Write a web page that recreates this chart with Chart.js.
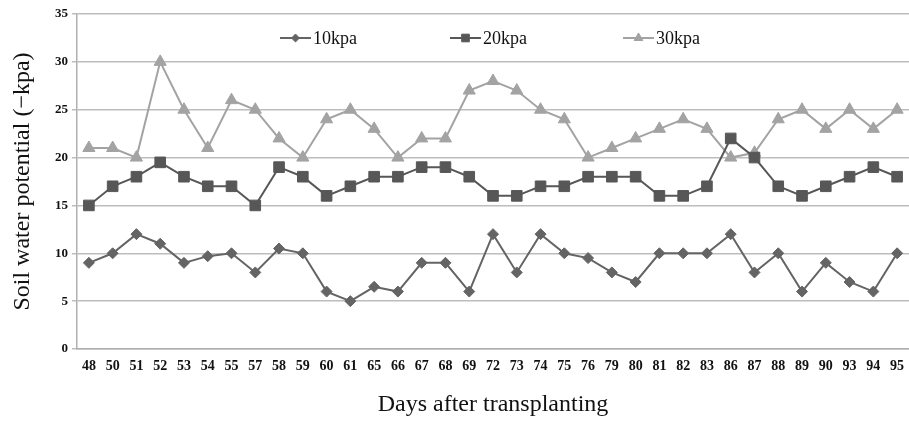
<!DOCTYPE html>
<html>
<head>
<meta charset="utf-8">
<script src="https://cdn.jsdelivr.net/npm/chart.js@4.4.1/dist/chart.umd.min.js"></script>
<style>
html,body{margin:0;padding:0;background:#fff;}
#wrap{width:909px;height:421px;position:relative;}
</style>
</head>
<body>
<div id="wrap"><canvas id="c" width="909" height="421"></canvas></div>
<script>
const days = ['48','50','51','52','53','54','55','57','58','59','60','61','65','66','67','68','69','72','73','74','75','76','79','80','81','82','83','86','87','88','89','90','93','94','95'];
const kpa10 = [9,10,12,11,9,9.7,10,8,10.5,10,6,5,6.5,6,9,9,6,12,8,12,10,9.5,8,7,10,10,10,12,8,10,6,9,7,6,10];
const kpa20 = [15,17,18,19.5,18,17,17,15,19,18,16,17,18,18,19,19,18,16,16,17,17,18,18,18,16,16,17,22,20,17,16,17,18,19,18];
const kpa30 = [21,21,20,30,25,21,26,25,22,20,24,25,23,20,22,22,27,28,27,25,24,20,21,22,23,24,23,20,20.5,24,25,23,25,23,25];
const yTicks = [0,5,10,15,20,25,30,35];
const seriesLabels = ['10kpa','20kpa','30kpa'];

const serif = '"Liberation Serif", "DejaVu Serif", serif';

const legendPlugin = {
  id: 'inLegend',
  afterDraw(chart) {
    const ctx = chart.ctx;
    const pos = [280, 450, 623];
    const y = 38;
    chart.data.datasets.forEach((ds, i) => {
      const x0 = pos[i];
      ctx.save();
      ctx.strokeStyle = ds.borderColor;
      ctx.fillStyle = ds.backgroundColor;
      ctx.lineWidth = 2;
      ctx.beginPath();
      ctx.moveTo(x0, y); ctx.lineTo(x0 + 31, y);
      ctx.stroke();
      ctx.lineWidth = 1;
      Chart.helpers.drawPoint(ctx, {pointStyle: ds.pointStyle, radius: ds.pointRadius * 0.72, rotation: 0, borderWidth: 1}, x0 + 15.5, y);
      ctx.fillStyle = '#111';
      ctx.font = '18px ' + serif;
      ctx.textBaseline = 'middle';
      ctx.textAlign = 'left';
      ctx.fillText(ds.label, x0 + 33, y + 1);
      ctx.restore();
    });
  }
};

new Chart(document.getElementById('c'), {
  type: 'line',
  data: {
    labels: days,
    datasets: [
      {label: seriesLabels[0], data: kpa10, borderColor: '#646464', backgroundColor: '#646464', borderWidth: 2, pointStyle: 'rectRot', pointRadius: 5.5, pointBorderWidth: 1},
      {label: seriesLabels[1], data: kpa20, borderColor: '#575757', backgroundColor: '#575757', borderWidth: 2, pointStyle: 'rect', pointRadius: 7.5, pointBorderWidth: 1},
      {label: seriesLabels[2], data: kpa30, borderColor: '#a3a3a3', backgroundColor: '#a3a3a3', borderWidth: 2, pointStyle: 'triangle', pointRadius: 7, pointBorderWidth: 1}
    ]
  },
  options: {
    responsive: false,
    animation: false,
    devicePixelRatio: 1,
    layout: {autoPadding: false, padding: {top: 14, right: -2, left: 0, bottom: 0}},
    plugins: {legend: {display: false}, tooltip: {enabled: false}},
    scales: {
      x: {
        offset: true,
        grid: {display: false, drawTicks: false},
        border: {display: true, color: '#b0b0b0', width: 1.5},
        ticks: {color: '#111', font: {family: serif, size: 14, weight: 'bold'}, maxRotation: 0, autoSkip: false, padding: 9},
        title: {display: true, text: 'Days after transplanting', color: '#111', font: {family: serif, size: 24}, padding: {top: 0, bottom: 2}},
        afterFit(s) { s.height = 72; s.paddingLeft = 0; s.paddingRight = 0; }
      },
      y: {
        min: 0, max: 35,
        afterBuildTicks(s) { s.ticks = yTicks.map(v => ({value: v})); },
        grid: {color: '#bdbdbd', lineWidth: 1.5, tickLength: 5, drawTicks: true},
        border: {display: true, color: '#b0b0b0', width: 1.5},
        ticks: {color: '#111', font: {family: serif, size: 13, weight: 'bold'}, padding: 4},
        title: {display: true, text: 'Soil water potential (\u2212kpa)', color: '#111', font: {family: serif, size: 24}, padding: {top: 8, bottom: 0}},
        afterFit(s) { s.width = 77; }
      }
    }
  },
  plugins: [legendPlugin]
});
</script>
</body>
</html>
